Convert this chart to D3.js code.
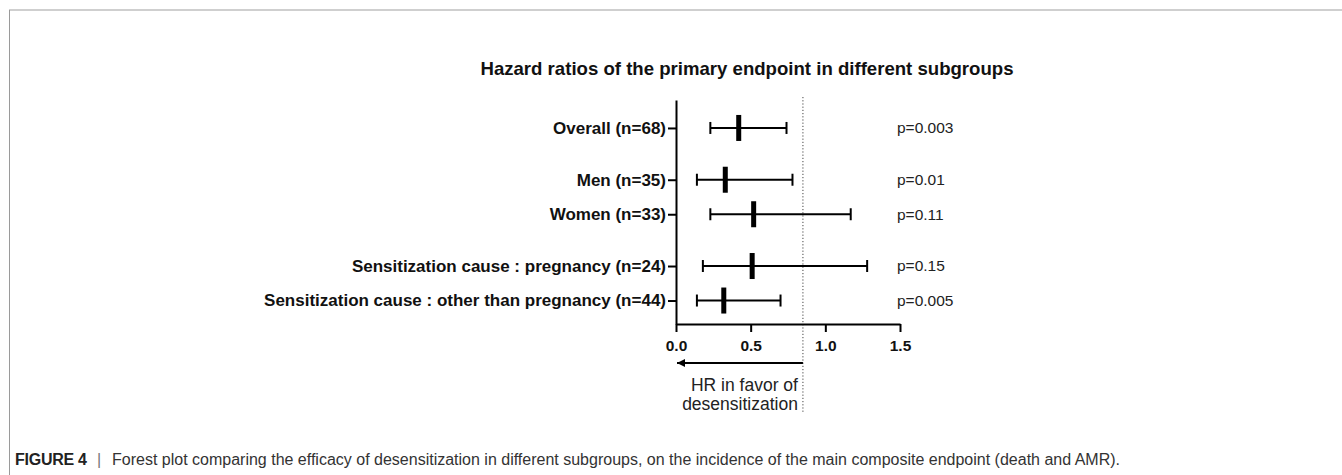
<!DOCTYPE html>
<html>
<head>
<meta charset="utf-8">
<script src="https://cdn.jsdelivr.net/npm/d3@7"></script>
<style>
  body { margin: 0; background: #fff; }
  svg { display: block; font-family: "Liberation Sans", Arial, Helvetica, sans-serif; }
</style>
</head>
<body>
<svg id="chart" width="1342" height="475"></svg>
<script>
// Forest plot: hazard ratios per subgroup, drawn with d3 scales + axes.

const subgroups = [
  'Overall (n=68)',
  'Men (n=35)',
  'Women (n=33)',
  'Sensitization cause : pregnancy (n=24)',
  'Sensitization cause : other than pregnancy (n=44)'
];
const rowPos = [0, 1.5, 2.5, 4, 5];        // vertical slot of each subgroup
const hr = [0.42, 0.33, 0.52, 0.51, 0.32];
const lower = [0.23, 0.14, 0.23, 0.18, 0.14];
const upper = [0.74, 0.78, 1.17, 1.28, 0.70];
const pValues = ['p=0.003', 'p=0.01', 'p=0.11', 'p=0.15', 'p=0.005'];
const xTicks = [0, 0.5, 1.0, 1.5];
const refValue = 0.85;

const svg = d3.select('#chart');

// Page frame (journal figure box)
svg.append('line')
  .attr('x1', 9).attr('x2', 1342).attr('y1', 10).attr('y2', 10)
  .attr('stroke', '#cfcfcf').attr('stroke-width', 2);
svg.append('line')
  .attr('x1', 9.5).attr('x2', 9.5).attr('y1', 10).attr('y2', 475)
  .attr('stroke', '#9a9a9a').attr('stroke-width', 1);

// Scales
const x = d3.scaleLinear().domain([0, 1.5]).range([676, 900]);
const y = d3.scaleLinear().domain([-0.81, 5.68]).range([100, 324]);

// Title
svg.append('text')
  .attr('x', 747).attr('y', 75)
  .attr('text-anchor', 'middle')
  .attr('font-size', 18.6)
  .attr('font-weight', 'bold')
  .attr('fill', '#111')
  .text('Hazard ratios of the primary endpoint in different subgroups');

// Reference (dotted) line
svg.append('line')
  .attr('x1', x(refValue)).attr('x2', x(refValue))
  .attr('y1', 97).attr('y2', 412)
  .attr('stroke', '#444').attr('stroke-width', 1)
  .attr('stroke-dasharray', '1.2,2');

// Y axis with subgroup labels
const yAxis = d3.axisLeft(y)
  .tickValues(rowPos)
  .tickFormat((d, i) => subgroups[i])
  .tickSizeInner(8)
  .tickSizeOuter(0)
  .tickPadding(2);

const gy = svg.append('g')
  .attr('transform', `translate(${x(0)},0)`)
  .call(yAxis);
gy.select('.domain').attr('stroke', '#000').attr('stroke-width', 2);
gy.selectAll('.tick line').attr('stroke', '#000').attr('stroke-width', 2);
gy.selectAll('.tick text')
  .attr('font-size', 17)
  .attr('font-weight', 'bold')
  .attr('font-family', '"Liberation Sans", Arial, sans-serif')
  .attr('fill', '#111');

// X axis
const xAxis = d3.axisBottom(x)
  .tickValues(xTicks)
  .tickFormat(d3.format('.1f'))
  .tickSizeInner(8)
  .tickSizeOuter(0)
  .tickPadding(8);

const gx = svg.append('g')
  .attr('transform', `translate(0,${y.range()[1]})`)
  .call(xAxis);
gx.select('.domain').attr('stroke', '#000').attr('stroke-width', 2);
gx.selectAll('.tick line').attr('stroke', '#000').attr('stroke-width', 2);
gx.selectAll('.tick text')
  .attr('font-size', 15.5)
  .attr('font-weight', 'bold')
  .attr('font-family', '"Liberation Sans", Arial, sans-serif')
  .attr('fill', '#111');

// Error bars
const rows = subgroups.map((name, i) => ({
  name, pos: rowPos[i], hr: hr[i], lo: lower[i], hi: upper[i], p: pValues[i]
}));

const g = svg.append('g').attr('class', 'forest');
const row = g.selectAll('g.row').data(rows).join('g').attr('class', 'row');

row.append('line')
  .attr('x1', d => x(d.lo)).attr('x2', d => x(d.hi))
  .attr('y1', d => y(d.pos)).attr('y2', d => y(d.pos))
  .attr('stroke', '#000').attr('stroke-width', 2);

// whisker caps
row.append('line')
  .attr('x1', d => x(d.lo)).attr('x2', d => x(d.lo))
  .attr('y1', d => y(d.pos) - 6).attr('y2', d => y(d.pos) + 6)
  .attr('stroke', '#000').attr('stroke-width', 2);
row.append('line')
  .attr('x1', d => x(d.hi)).attr('x2', d => x(d.hi))
  .attr('y1', d => y(d.pos) - 6).attr('y2', d => y(d.pos) + 6)
  .attr('stroke', '#000').attr('stroke-width', 2);

// point estimate (thick vertical bar)
row.append('rect')
  .attr('x', d => x(d.hr) - 2.5)
  .attr('y', d => y(d.pos) - 13)
  .attr('width', 5)
  .attr('height', 26)
  .attr('fill', '#000');

// p-values
row.append('text')
  .attr('x', 897)
  .attr('y', d => y(d.pos))
  .attr('dy', '0.35em')
  .attr('font-size', 15.5)
  .attr('fill', '#222')
  .text(d => d.p);

// Arrow: HR in favor of desensitization
const defs = svg.append('defs');
defs.append('marker')
  .attr('id', 'arrowHead')
  .attr('viewBox', '0 0 10 10')
  .attr('refX', 10)
  .attr('refY', 5)
  .attr('markerWidth', 5)
  .attr('markerHeight', 4)
  .attr('markerUnits', 'strokeWidth')
  .attr('orient', 'auto')
  .append('path')
  .attr('d', 'M 0 0 L 10 5 L 0 10 z')
  .attr('fill', '#000');

svg.append('line')
  .attr('x1', x(refValue)).attr('x2', x(0) + 1)
  .attr('y1', 363).attr('y2', 363)
  .attr('stroke', '#000').attr('stroke-width', 2)
  .attr('marker-end', 'url(#arrowHead)');

svg.append('text')
  .attr('x', x(refValue) - 5).attr('y', 391)
  .attr('text-anchor', 'end')
  .attr('font-size', 17.5)
  .attr('fill', '#222')
  .text('HR in favor of');
svg.append('text')
  .attr('x', x(refValue) - 5).attr('y', 410)
  .attr('text-anchor', 'end')
  .attr('font-size', 17.5)
  .attr('fill', '#222')
  .text('desensitization');

// Caption
const cap = svg.append('text')
  .attr('x', 15).attr('y', 465)
  .attr('font-size', 16)
  .attr('fill', '#333');
cap.append('tspan').attr('font-weight', 'bold').attr('fill', '#222').attr('textLength', 72).text('FIGURE 4');
cap.append('tspan').attr('x', 97).attr('fill', '#777').text('|');
cap.append('tspan').attr('x', 112).text('Forest plot comparing the efficacy of desensitization in different subgroups, on the incidence of the main composite endpoint (death and AMR).');
</script>
</body>
</html>
